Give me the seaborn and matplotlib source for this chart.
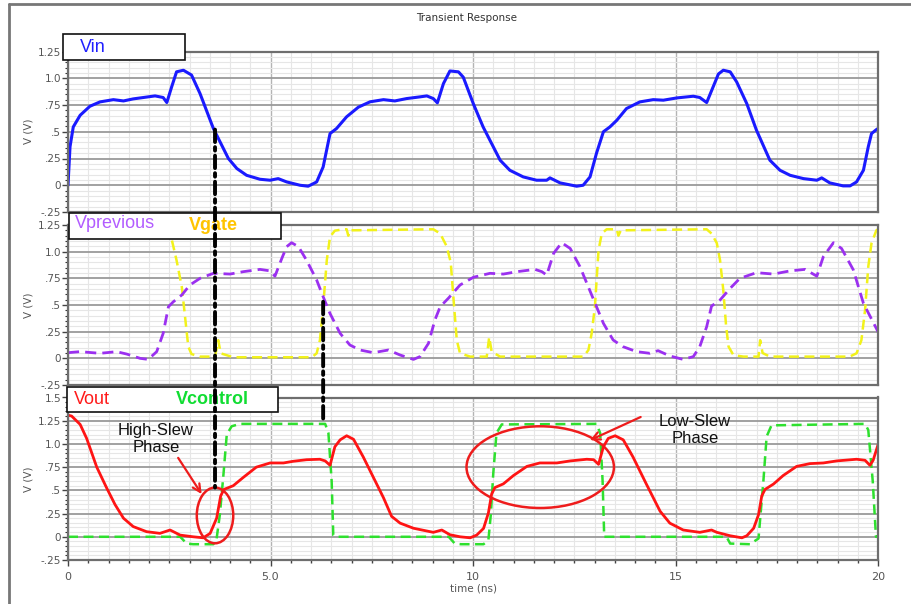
import matplotlib
matplotlib.use("Agg")
import matplotlib.pyplot as plt
import seaborn as sns
from matplotlib.patches import Rectangle, Ellipse, ConnectionPatch
from matplotlib.lines import Line2D
from matplotlib.ticker import MultipleLocator, FixedLocator, FixedFormatter

# ---- waveform samples (time in ns, voltage in V) ----
vin_t = [0.0, 0.05, 0.13, 0.30, 0.54, 0.79, 1.12, 1.37, 1.61, 1.86, 2.15, 2.35, 2.44, 2.56, 2.68, 2.85,
         3.05, 3.26, 3.59, 3.96, 4.17, 4.41, 4.74, 4.99, 5.19, 5.40, 5.73, 5.93, 6.14, 6.30, 6.47, 6.63,
         6.88, 7.17, 7.46, 7.79, 8.07, 8.36, 8.69, 8.86, 9.02, 9.12, 9.27, 9.43, 9.64, 9.76, 10.01, 10.25,
         10.50, 10.67, 10.91, 11.24, 11.57, 11.82, 11.90, 12.15, 12.56, 12.72, 12.89, 13.05, 13.22, 13.38,
         13.55, 13.79, 14.12, 14.45, 14.70, 15.03, 15.44, 15.60, 15.77, 15.93, 16.06, 16.18, 16.35, 16.51,
         16.76, 17.00, 17.33, 17.58, 17.83, 18.16, 18.49, 18.61, 18.81, 19.14, 19.31, 19.47, 19.64, 19.76,
         19.84, 19.96, 20.0]
vin_v = [0.0, 0.36, 0.545, 0.654, 0.738, 0.779, 0.80, 0.788, 0.807, 0.82, 0.835, 0.82, 0.773, 0.92, 1.06, 1.075,
         1.03, 0.857, 0.53, 0.25, 0.156, 0.093, 0.056, 0.047, 0.062, 0.031, 0.0, -0.009, 0.031, 0.171, 0.483, 0.53,
         0.64, 0.73, 0.78, 0.80, 0.788, 0.81, 0.826, 0.835, 0.81, 0.77, 0.95, 1.068, 1.06, 1.01, 0.76, 0.545,
         0.36, 0.234, 0.14, 0.078, 0.047, 0.047, 0.069, 0.022, -0.009, 0.0, 0.078, 0.30, 0.50, 0.545,
         0.607, 0.717, 0.779, 0.80, 0.795, 0.816, 0.832, 0.82, 0.773, 0.92, 1.04, 1.075, 1.06, 0.966,
         0.763, 0.514, 0.234, 0.14, 0.093, 0.062, 0.047, 0.069, 0.022, -0.006, -0.006, 0.031, 0.14, 0.36,
         0.483, 0.52, 0.53]

vprev_t = [0.0, 0.30, 0.79, 1.20, 1.45, 1.78, 1.98, 2.19, 2.35, 2.48, 2.60, 2.81, 3.01, 3.26, 3.59, 4.00,
           4.33, 4.74, 4.99, 5.11, 5.28, 5.40, 5.52, 5.69, 5.89, 6.14, 6.30, 6.47, 6.72, 6.96, 7.21, 7.54,
           7.91, 8.20, 8.53, 8.69, 8.90, 9.06, 9.19, 9.39, 9.68, 10.01, 10.42, 10.75, 11.09, 11.53, 11.70,
           11.82, 11.99, 12.19, 12.40, 12.64, 12.88, 13.05, 13.22, 13.46, 13.70, 14.04, 14.37, 14.57, 14.86,
           15.19, 15.44, 15.60, 15.77, 15.89, 16.10, 16.35, 16.59, 17.00, 17.42, 17.83, 18.20, 18.49, 18.65,
           18.90, 19.10, 19.39, 19.64, 20.0]
vprev_v = [0.053, 0.0625, 0.047, 0.0625, 0.04, 0.0, -0.01, 0.0625, 0.234, 0.484, 0.53, 0.594, 0.6875, 0.75, 0.797, 0.79,
           0.8125, 0.834, 0.82, 0.77, 0.9375, 1.047, 1.084, 1.047, 0.92, 0.734, 0.578, 0.42, 0.234, 0.125, 0.078, 0.053,
           0.078, 0.031, -0.01, 0.016, 0.14, 0.36, 0.484, 0.5625, 0.6875, 0.76, 0.797, 0.79, 0.8125, 0.834, 0.8125,
           0.78, 0.984, 1.084, 1.03, 0.86, 0.64, 0.484, 0.328, 0.172, 0.11, 0.0625, 0.047, 0.072, 0.022,
           -0.01, 0.016, 0.11, 0.297, 0.49, 0.547, 0.656, 0.75, 0.803, 0.79, 0.82, 0.834, 0.77, 0.953,
           1.084, 1.03, 0.83, 0.516, 0.25]

vgate_t = [0.0, 2.19, 2.44, 2.56, 2.68, 2.81, 2.89, 2.97, 3.05, 3.26, 3.63, 3.71, 3.77, 4.08, 6.02, 6.14,
           6.22, 6.30, 6.39, 6.47, 6.59, 6.80, 6.88, 6.92, 6.96, 9.02, 9.19, 9.35, 9.45, 9.52, 9.60, 9.68,
           9.93, 10.34, 10.40, 10.46, 10.67, 12.73, 12.85, 12.93, 13.01, 13.10, 13.18, 13.30, 13.55, 13.59,
           13.65, 15.77, 15.89, 16.02, 16.10, 16.18, 16.25, 16.31, 16.43, 16.68, 17.05, 17.09, 17.15, 17.33,
           19.30, 19.47, 19.59, 19.68, 19.76, 19.84, 19.96, 20.0]
vgate_v = [1.21, 1.21, 1.17, 1.116, 0.92, 0.67, 0.39, 0.11, 0.04, 0.016, 0.016, 0.17, 0.047, 0.01, 0.01, 0.047,
           0.17, 0.484, 0.92, 1.14, 1.197, 1.21, 1.21, 1.15, 1.20, 1.21, 1.17, 1.05, 0.90, 0.55, 0.17, 0.047,
           0.016, 0.016, 0.20, 0.0625, 0.016, 0.016, 0.078, 0.234, 0.484, 1.016, 1.17, 1.21, 1.21, 1.15,
           1.20, 1.21, 1.17, 1.08, 0.92, 0.64, 0.30, 0.11, 0.03, 0.016, 0.016, 0.17, 0.05, 0.016,
           0.016, 0.047, 0.17, 0.45, 0.86, 1.08, 1.20, 1.21]

vout_t = [0.0, 0.09, 0.30, 0.46, 0.71, 0.95, 1.16, 1.37, 1.61, 1.94, 2.27, 2.52, 2.77, 3.09, 3.34, 3.51,
          3.67, 3.77, 3.85, 4.08, 4.33, 4.65, 4.99, 5.32, 5.56, 5.89, 6.22, 6.35, 6.47, 6.59, 6.72, 6.88,
          7.05, 7.29, 7.54, 7.79, 7.99, 8.20, 8.53, 9.02, 9.23, 9.43, 9.68, 9.93, 10.09, 10.26, 10.38,
          10.46, 10.54, 10.75, 11.00, 11.33, 11.65, 12.07, 12.40, 12.81, 12.98, 13.10, 13.22, 13.34, 13.51,
          13.71, 13.95, 14.28, 14.62, 14.86, 15.19, 15.60, 15.89, 16.02, 16.35, 16.64, 16.76, 16.93, 17.05,
          17.13, 17.21, 17.42, 17.66, 17.99, 18.32, 18.65, 18.98, 19.47, 19.68, 19.80, 19.88, 20.0]
vout_v = [1.31, 1.30, 1.21, 1.06, 0.75, 0.53, 0.348, 0.20, 0.11, 0.055, 0.037, 0.073, 0.018, 0.0, -0.011, 0.037,
          0.20, 0.44, 0.51, 0.55, 0.64, 0.75, 0.795, 0.795, 0.813, 0.83, 0.835, 0.817, 0.77, 0.97, 1.044, 1.088,
          1.05, 0.86, 0.64, 0.42, 0.22, 0.147, 0.092, 0.048, 0.073, 0.022, 0.0, -0.011, 0.018, 0.09, 0.256,
          0.46, 0.53, 0.57, 0.66, 0.758, 0.795, 0.795, 0.817, 0.835, 0.83, 0.78, 0.97, 1.06, 1.088,
          1.044, 0.86, 0.568, 0.275, 0.147, 0.073, 0.048, 0.073, 0.048, 0.011, -0.011, 0.011, 0.092, 0.238,
          0.44, 0.51, 0.568, 0.66, 0.758, 0.788, 0.795, 0.817, 0.835, 0.824, 0.77, 0.824, 0.99]

vctrl_t = [0.0, 2.77, 2.93, 3.09, 3.59, 3.67, 3.75, 3.84, 3.92, 4.04, 4.25, 6.35, 6.43, 6.51, 6.55, 6.63,
           9.40, 9.55, 9.70, 10.26, 10.38, 10.44, 10.50, 10.58, 10.71, 13.05, 13.14, 13.20, 13.24, 16.26,
           16.35, 16.84, 17.05, 17.10, 17.17, 17.25, 17.37, 19.68, 19.76, 19.87, 19.95, 20.0]
vctrl_v = [0.0, 0.0, -0.073, -0.08, -0.08, -0.018, 0.24, 0.68, 1.10, 1.19, 1.216, 1.216, 1.117, 0.60, 0.018, 0.0,
           0.0, -0.073, -0.08, -0.08, -0.037, 0.24, 0.68, 1.117, 1.21, 1.216, 1.117, 0.60, 0.0, 0.0,
           -0.073, -0.08, -0.018, 0.24, 0.60, 1.08, 1.20, 1.216, 1.15, 0.60, 0.0, 0.0]

ytick_vals = [-0.25, 0, 0.25, 0.5, 0.75, 1.0, 1.25]
ytick_text = ["-.25", "0", ".25", ".5", ".75", "1.0", "1.25"]
ytick_vals3 = ytick_vals + [1.5]
ytick_text3 = ytick_text + ["1.5"]
xtick_vals = [0, 5, 10, 15, 20]
xtick_text = ["0", "5.0", "10", "15", "20"]

sns.set_theme(style="white")
plt.rcParams["font.family"] = ["DejaVu Sans"]
plt.rcParams["lines.solid_joinstyle"] = "round"
plt.rcParams["lines.dash_joinstyle"] = "round"

W, H = 911, 604
fig = plt.figure(figsize=(W / 100, H / 100), dpi=100)


def px_axes(left, top, right, bottom):
    return fig.add_axes([left / W, 1 - bottom / H, (right - left) / W, (bottom - top) / H])


ax1 = px_axes(68, 51.5, 878, 212)
ax2 = px_axes(68, 225, 878, 385)
ax3 = px_axes(68, 397.5, 878, 560)

tick_grey = "#555555"

# ---- waveforms ----
sns.lineplot(x=vin_t, y=vin_v, ax=ax1, color="#1a1aff", lw=2.2, estimator=None, sort=False)
sns.lineplot(x=vgate_t, y=vgate_v, ax=ax2, color="#f2f21a", lw=1.8, estimator=None, sort=False,
             linestyle=(0, (4, 2.2)))
sns.lineplot(x=vprev_t, y=vprev_v, ax=ax2, color="#9b30f0", lw=2.0, estimator=None, sort=False,
             linestyle=(0, (4, 2.2)))
sns.lineplot(x=vctrl_t, y=vctrl_v, ax=ax3, color="#2ee02e", lw=1.8, estimator=None, sort=False,
             linestyle=(0, (4, 2.2)))
sns.lineplot(x=vout_t, y=vout_v, ax=ax3, color="#ff1414", lw=2.0, estimator=None, sort=False)

for ax, lims, tv, tt in [(ax1, (-0.25, 1.25), ytick_vals, ytick_text),
                         (ax2, (-0.25, 1.25), ytick_vals, ytick_text),
                         (ax3, (-0.25, 1.5), ytick_vals3, ytick_text3)]:
    ax.set_xlim(0, 20)
    ax.set_ylim(*lims)
    ax.set_facecolor("white")
    ax.set_axisbelow(True)
    ax.yaxis.set_major_locator(FixedLocator(tv))
    ax.yaxis.set_major_formatter(FixedFormatter(tt))
    ax.yaxis.set_minor_locator(MultipleLocator(0.05))
    ax.xaxis.set_major_locator(FixedLocator(xtick_vals))
    ax.xaxis.set_minor_locator(MultipleLocator(0.5))
    ax.grid(which="minor", color="#e6e6e6", lw=0.8)
    ax.grid(which="major", axis="y", color="#9a9a9a", lw=1.3)
    ax.grid(which="major", axis="x", color="#b4b4b4", lw=1.0)
    for s in ax.spines.values():
        s.set_color("#6e6e6e")
        s.set_linewidth(1.6)
    ax.tick_params(axis="y", which="major", length=4, width=1, color="#444444",
                   labelsize=7.5, labelcolor=tick_grey, pad=1, left=True)
    ax.tick_params(axis="y", which="minor", length=2, width=0.8, color="#333333", left=True)
    ax.set_ylabel("V (V)", fontsize=7.5, color=tick_grey)
    ax.yaxis.set_label_coords(-0.043, 0.5)
    ax.set_xlabel("")

for ax in (ax1, ax2):
    ax.tick_params(axis="x", which="both", length=0, labelbottom=False)

ax3.xaxis.set_major_formatter(FixedFormatter(xtick_text))
ax3.tick_params(axis="x", which="major", length=4, width=1, color="#444444",
                labelsize=8, labelcolor=tick_grey, pad=5, bottom=True)
ax3.tick_params(axis="x", which="minor", length=2.5, width=1, color="#444444", bottom=True)
ax3.set_xlabel("time (ns)", fontsize=7.5, color=tick_grey, labelpad=1)

# ---- slew-phase annotations ----
red = "#ee1c1c"
ax3.add_patch(Ellipse((3.63, 0.23), 0.9, 0.60, fill=False, ec=red, lw=1.8, zorder=6))
ax3.add_patch(Ellipse((11.66, 0.75), 3.64, 0.88, fill=False, ec=red, lw=1.8, zorder=6))
ax3.annotate("", xy=(3.30, 0.46), xytext=(2.72, 0.85),
             arrowprops=dict(arrowstyle="->", color=red, lw=1.6, shrinkA=0, shrinkB=0,
                             mutation_scale=14))
ax3.annotate("", xy=(12.89, 1.04), xytext=(14.14, 1.29),
             arrowprops=dict(arrowstyle="->", color=red, lw=1.6, shrinkA=0, shrinkB=0,
                             mutation_scale=14))
ax3.text(2.17, 1.05, "High-Slew\nPhase", ha="center", va="center", fontsize=12,
         family="Liberation Sans", color="#111111", linespacing=1.2, zorder=7)
ax3.text(15.48, 1.15, "Low-Slew\nPhase", ha="center", va="center", fontsize=12,
         family="Liberation Sans", color="#111111", linespacing=1.2, zorder=7)


# ---- trace label boxes ----
def label_box(left, top, right, bottom):
    r = Rectangle((left / W, 1 - bottom / H), (right - left) / W, (bottom - top) / H,
                  transform=fig.transFigure, fc="white", ec="#111111", lw=1.2, zorder=20)
    fig.add_artist(r)


def label_text(x, y, s, color, bold=False):
    fig.text(x / W, 1 - y / H, s, color=color, fontsize=13, family="Liberation Sans",
             fontweight="bold" if bold else "normal", ha="left", va="center", zorder=21)


label_box(63, 34, 185, 60)
label_text(80, 47, "Vin", "#2020ff")
label_box(69, 213, 281, 239)
label_text(75, 224, "Vprevious", "#b25cff")
label_text(189, 226, "Vgate", "#ffc400", bold=True)
label_box(67, 387, 278, 412)
label_text(74, 400, "Vout", "#ff1a1a")
label_text(176, 400, "Vcontrol", "#11dd33", bold=True)

# ---- timing markers spanning panels ----
dashdot = (0, (3.2, 1.3, 0.9, 1.3))
for (ta, va, axa), (tb, vb, axb) in [((3.63, 0.52, ax1), (3.63, 0.53, ax3)),
                                      ((6.30, 0.53, ax2), (6.30, 1.23, ax3))]:
    con = ConnectionPatch(xyA=(ta, va), coordsA=axa.transData, xyB=(tb, vb), coordsB=axb.transData,
                          color="black", lw=2.8, linestyle=dashdot, zorder=30)
    fig.add_artist(con)

# ---- title and outer frame ----
fig.text(467 / W, 1 - 18 / H, "Transient Response", ha="center", va="center", fontsize=7.5,
         color="#333333")
fig.add_artist(Line2D([9 / W, 9 / W], [0, 1 - 4 / H], transform=fig.transFigure, color="#777777", lw=2))
fig.add_artist(Line2D([9 / W, 1], [1 - 4 / H, 1 - 4 / H], transform=fig.transFigure, color="#777777", lw=2))

fig.savefig("out.png", dpi=100, facecolor="white")
